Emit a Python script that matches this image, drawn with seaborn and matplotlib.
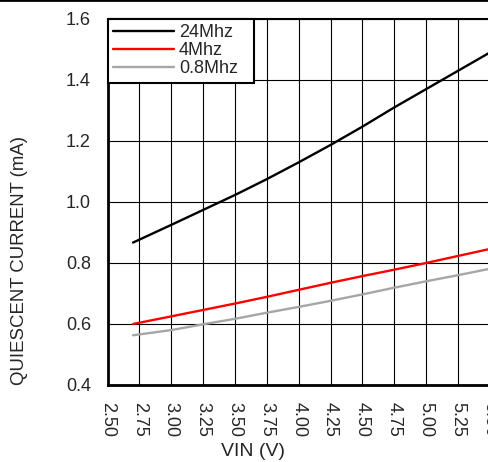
import matplotlib
matplotlib.use("Agg")
import matplotlib.pyplot as plt
import seaborn as sns
import pandas as pd
from matplotlib.lines import Line2D

# supply voltage (V)
vin = [2.70, 3.00, 3.25, 3.50, 3.75, 4.00, 4.25, 4.50, 4.75, 5.00, 5.25, 5.50]
# quiescent current (mA) for each clock
i_24mhz = [0.867, 0.925, 0.974, 1.023, 1.075, 1.130, 1.187, 1.247, 1.310, 1.370, 1.430, 1.490]
i_4mhz = [0.600, 0.625, 0.646, 0.667, 0.689, 0.712, 0.735, 0.757, 0.778, 0.800, 0.823, 0.846]
i_08mhz = [0.563, 0.580, 0.599, 0.617, 0.637, 0.656, 0.676, 0.697, 0.719, 0.740, 0.760, 0.781]
labels = ["24Mhz", "4Mhz", "0.8Mhz"]
colors = ["black", "#ff0000", "#a6a6a6"]
xticks = [2.50, 2.75, 3.00, 3.25, 3.50, 3.75, 4.00, 4.25, 4.50, 4.75, 5.00, 5.25, 5.50]
yticks = [0.4, 0.6, 0.8, 1.0, 1.2, 1.4, 1.6]

sns.set_style("white")
plt.rcParams["font.family"] = ["Liberation Sans", "DejaVu Sans"]
fs = 13

fig = plt.figure(figsize=(4.88, 4.62), dpi=100)
ax = fig.add_axes([0.2205, 0.1667, 0.7832, 0.7922])

for vals, lab, col in zip([i_24mhz, i_4mhz, i_08mhz], labels, colors):
    df = pd.DataFrame({"VIN": vin, "I": vals})
    sns.lineplot(data=df, x="VIN", y="I", ax=ax, color=col, lw=1.7, label=lab)

ax.set_xlim(2.5, 5.5)
ax.set_ylim(0.4, 1.6)
ax.set_xticks(xticks)
ax.set_xticklabels([f"{t:.2f}" for t in xticks], rotation=-90, fontsize=fs)
ax.set_yticks(yticks)
ax.set_yticklabels([f"{t:.1f}" for t in yticks], fontsize=fs)
ax.tick_params(length=0, pad=12)
ax.grid(True, color="black", lw=0.8)
ax.set_xlabel("VIN (V)", fontsize=14)
ax.xaxis.set_label_coords(0.38, -0.158)
ax.set_ylabel("QUIESCENT CURRENT (mA)", fontsize=13.4)
ax.yaxis.set_label_coords(-0.207, 0.34)

for s in ax.spines.values():
    s.set_color("black")
ax.spines["left"].set_linewidth(2)
ax.spines["bottom"].set_linewidth(2)
ax.spines["top"].set_linewidth(1.5)

leg = ax.legend(loc="upper left", bbox_to_anchor=(0, 0, 0.382, 1), mode="expand",
                borderaxespad=0, fancybox=False, framealpha=1, edgecolor="black",
                fontsize=fs, handlelength=3.4, labelspacing=0.05, borderpad=0.3,
                handletextpad=0.25)
leg.get_frame().set_linewidth(1.5)

fig.add_artist(Line2D([0, 1], [0.999, 0.999], transform=fig.transFigure, color="black", lw=2))

fig.savefig("out.png", dpi=100)
